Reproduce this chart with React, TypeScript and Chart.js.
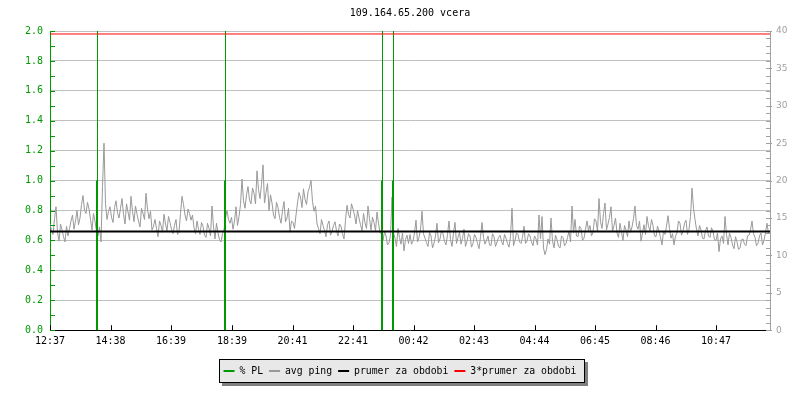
import React, { useEffect, useRef } from "react";
import { Chart, registerables } from "chart.js";

Chart.register(...registerables);

const TITLE = "109.164.65.200 vcera";
const TOTAL_MINUTES = 1440;
const SAMPLE_STEP_MINUTES = 6;

const xTickMinutes = [0, 121, 242, 364, 485, 606, 727, 848, 969, 1090, 1211, 1332];
const xTickLabels = ["12:37", "14:38", "16:39", "18:39", "20:41", "22:41", "00:42", "02:43", "04:44", "06:45", "08:46", "10:47"];

// avg ping (ms) read every 6 minutes ...
const pingSeg1 = [
  14.2, 12.8, 16.5, 11.9, 13.4, 11.8, 12.6, 14.6, 13.5, 16.0,
  15.0, 18.0, 15.6, 16.2, 13.4, 14.6, 12.6, 11.8, 25.0, 14.8,
  16.5, 14.4, 17.3, 15.0, 17.6, 14.2, 15.8, 17.9, 14.5, 15.5,
  13.8, 15.6, 18.3, 14.9, 13.4, 14.8, 12.5, 14.0, 15.5, 13.3,
  14.4, 12.9, 14.8, 13.1, 17.9, 15.4, 16.2, 14.7, 13.7, 14.6,
  12.8, 13.9, 12.4, 13.6, 16.6, 12.2, 13.0, 11.8, 13.4, 16.0,
];
const pingSeg2 = [
  14.3, 13.5, 16.5, 15.2, 20.2, 16.3, 19.2, 16.9, 18.3, 21.3,
  17.6, 22.1, 18.4, 16.0, 17.0, 14.9, 16.4, 14.3, 17.2, 15.0,
  13.1, 14.4, 15.4, 18.4, 16.4, 17.5, 18.5, 20.0, 15.9, 14.2,
  12.9, 14.0, 12.5, 14.6, 13.2, 14.5, 12.6, 13.9, 12.2, 16.7,
  15.0, 16.2, 14.2, 15.0, 13.3, 14.4, 16.6, 13.4, 14.4, 15.8,
  13.0, 12.0, 12.6, 11.7, 17.8, 12.3, 13.6, 11.5, 10.6, 12.7,
];
const pingSeg3 = [
  12.8, 11.9, 14.7, 12.4, 15.9, 12.3, 11.2, 12.6, 11.6, 14.3,
  12.2, 12.9, 11.4, 14.6, 11.2, 14.4, 12.4, 11.5, 13.5, 11.9,
  12.6, 11.6, 12.4, 10.9, 14.4, 11.5, 12.6, 11.3, 12.5, 11.8,
  12.7, 11.4, 12.3, 11.1, 16.3, 12.0, 12.8, 11.6, 13.9, 11.9,
  12.6, 11.3, 12.2, 15.4, 15.2, 10.1, 12.2, 15.0, 11.0, 12.1,
  11.0, 12.4, 11.6, 13.2, 16.6, 14.8, 12.5, 13.6, 12.3, 14.6,
];
const pingSeg4 = [
  14.0, 13.1, 14.6, 17.6, 13.6, 17.0, 14.2, 16.5, 14.0, 13.0,
  14.3, 12.0, 13.4, 14.6, 13.8, 16.6, 13.5, 11.9, 14.1, 15.2,
  13.3, 14.0, 12.5, 13.3, 11.4, 12.8, 15.3, 12.3, 11.4, 13.0,
  14.3, 13.2, 14.7, 13.5, 19.0, 14.8, 12.6, 13.4, 12.2, 13.8,
  12.4, 13.2, 12.0, 10.5, 12.6, 15.2, 11.4, 12.4, 10.9, 11.8,
  11.0, 12.2, 11.3, 12.7, 14.6, 12.4, 11.6, 13.0, 12.0, 14.3,
];
// ... and the readings 3 minutes after each of those
const pingSeg1Mid = [
  13.3, 14.9, 13.1, 14.2, 12.5, 13.9, 13.6, 15.4, 14.6, 14.1,
  16.8, 16.0, 17.1, 14.8, 15.6, 13.2, 13.8, 19.2, 16.9, 15.9,
  15.1, 16.4, 15.7, 16.3, 15.5, 16.9, 14.7, 15.9, 16.6, 14.6,
  16.3, 14.8, 16.2, 15.9, 13.9, 13.6, 14.6, 13.1, 14.2, 15.2,
  13.5, 14.0, 12.8, 15.6, 16.8, 14.6, 15.6, 15.4, 12.9, 13.5,
  14.4, 12.7, 14.3, 12.6, 13.8, 14.3, 12.1, 12.9, 15.0, 14.8,
];
const pingSeg2Mid = [
  15.1, 14.6, 14.0, 16.8, 17.3, 18.1, 17.4, 19.0, 16.9, 18.8,
  19.5, 17.0, 19.6, 18.1, 15.4, 17.1, 15.1, 16.0, 14.5, 16.3,
  14.6, 13.6, 17.0, 17.8, 18.9, 16.8, 19.1, 17.2, 16.6, 13.6,
  14.8, 13.3, 14.1, 12.7, 14.0, 13.3, 14.2, 12.9, 14.7, 15.5,
  16.9, 15.4, 16.0, 14.1, 15.6, 13.6, 14.9, 15.1, 13.3, 14.3,
  12.9, 13.2, 11.4, 12.7, 13.0, 11.2, 12.4, 13.0, 12.1, 11.6,
];
const pingSeg3Mid = [
  11.5, 13.0, 11.8, 13.4, 12.9, 11.7, 13.1, 11.0, 12.6, 11.7,
  13.3, 11.9, 12.8, 12.1, 13.0, 11.6, 13.1, 12.3, 11.2, 12.9,
  11.1, 12.8, 11.6, 12.5, 12.4, 12.0, 11.4, 12.9, 11.2, 12.4,
  11.9, 12.8, 11.6, 12.5, 11.3, 13.0, 11.8, 12.4, 11.6, 12.9,
  11.8, 12.6, 11.4, 12.2, 11.0, 10.8, 11.5, 11.9, 12.7, 11.2,
  12.6, 11.3, 12.4, 11.8, 13.0, 12.6, 13.9, 12.0, 13.5, 13.3,
];
const pingSeg4Mid = [
  12.6, 14.9, 13.2, 14.5, 15.6, 13.4, 15.1, 13.2, 15.0, 12.4,
  13.1, 14.0, 12.5, 13.1, 14.9, 14.0, 14.6, 13.0, 12.8, 13.9,
  14.8, 12.6, 13.9, 12.4, 13.2, 13.9, 13.6, 12.9, 12.6, 14.6,
  12.7, 14.3, 12.8, 15.2, 16.3, 13.5, 14.0, 12.3, 13.3, 12.6,
  13.7, 12.1, 13.0, 12.2, 11.6, 12.8, 13.0, 11.4, 12.5, 10.8,
  12.1, 11.5, 12.6, 13.4, 12.9, 11.3, 12.6, 11.4, 13.1, 12.9,
];

// packet loss events
const plMinutes = [94, 350, 664, 686];
const plValues = [1.0, 1.0, 1.0, 1.0];
const plMarkerTop = 2.0;

const avgPing = 13.2;

const GREEN = "#009900";
const GRAY = "#999999";
const MONO = "'DejaVu Sans Mono', monospace";

export default function App() {
  const ref = useRef<HTMLCanvasElement>(null);

  useEffect(() => {
    const canvas = ref.current;
    if (!canvas) return;

    const main = [...pingSeg1, ...pingSeg2, ...pingSeg3, ...pingSeg4];
    const mid = [...pingSeg1Mid, ...pingSeg2Mid, ...pingSeg3Mid, ...pingSeg4Mid];
    const pingData: any[] = [];
    main.forEach((v, i) => {
      pingData.push({ x: i * SAMPLE_STEP_MINUTES, y: v });
      if (i < mid.length) pingData.push({ x: i * SAMPLE_STEP_MINUTES + SAMPLE_STEP_MINUTES / 2, y: mid[i] });
    });

    const plThick: any[] = [];
    const plThin: any[] = [];
    plMinutes.forEach((m, i) => {
      plThick.push({ x: m, y: 0 }, { x: m, y: plValues[i] }, { x: m, y: null });
      plThin.push({ x: m, y: 0 }, { x: m, y: plMarkerTop }, { x: m, y: null });
    });

    const legendBox = {
      id: "legendBox",
      beforeDraw(chart: any) {
        const lg = chart.legend;
        if (!lg || !lg.legendHitBoxes || !lg.legendHitBoxes.length) return;
        const hbs = lg.legendHitBoxes;
        let l = Infinity, r = -Infinity;
        hbs.forEach((h: any) => { l = Math.min(l, h.left); r = Math.max(r, h.left + h.width); });
        const cy = hbs[0].top + hbs[0].height / 2;
        const left = Math.round(l - 5);
        const right = Math.round(r + 9);
        const top = Math.round(cy - 12);
        const w = right - left, h = 24;
        const ctx = chart.ctx;
        ctx.save();
        ctx.fillStyle = "#808080";
        ctx.fillRect(left + 3, top + 3, w, h);
        ctx.fillStyle = "#e8e8e8";
        ctx.fillRect(left, top, w, h);
        ctx.strokeStyle = "#000";
        ctx.lineWidth = 1;
        ctx.strokeRect(left + 0.5, top + 0.5, w - 1, h - 1);
        ctx.restore();
      },
    };

    const crispThin = {
      id: "crispThin",
      beforeDatasetDraw(chart: any, args: any) {
        if (args.index === 4) {
          chart.ctx.save();
          chart.ctx.translate(0.5, 0);
        }
      },
      afterDatasetDraw(chart: any, args: any) {
        if (args.index === 4) chart.ctx.restore();
      },
    };

    const inwardTicks = {
      id: "inwardTicks",
      afterDraw(chart: any) {
        const ctx = chart.ctx;
        const y = chart.scales.y, y1 = chart.scales.y1, x = chart.scales.x;
        const ca = chart.chartArea;
        ctx.save();
        ctx.lineWidth = 1;
        ctx.strokeStyle = GREEN;
        ctx.beginPath();
        for (let k = 0; k <= 20; k++) {
          const py = Math.round(y.getPixelForValue(k / 10)) + 0.5;
          ctx.moveTo(ca.left, py);
          ctx.lineTo(ca.left + 5, py);
        }
        ctx.stroke();
        ctx.strokeStyle = "#a0a0a0";
        ctx.beginPath();
        for (let k = 0; k <= 40; k++) {
          const py = Math.round(y1.getPixelForValue(k)) + 0.5;
          ctx.moveTo(ca.right - 4, py);
          ctx.lineTo(ca.right + (k % 5 === 0 ? 2 : 0), py);
        }
        ctx.stroke();
        ctx.strokeStyle = "#000";
        ctx.beginPath();
        xTickMinutes.forEach((m) => {
          const px = Math.round(x.getPixelForValue(m)) + 0.5;
          ctx.moveTo(px, ca.bottom);
          ctx.lineTo(px, ca.bottom - 5);
        });
        ctx.stroke();
        ctx.restore();
      },
    };

    const chart = new Chart(canvas, {
      type: "line",
      data: {
        datasets: [
          {
            label: "% PL",
            data: plThick,
            yAxisID: "y",
            borderColor: GREEN,
            backgroundColor: GREEN,
            borderWidth: 2,
            pointRadius: 0,
            spanGaps: false,
            order: 2,
          },
          {
            label: "avg ping",
            data: pingData,
            yAxisID: "y1",
            borderColor: GRAY,
            backgroundColor: GRAY,
            borderWidth: 1,
            pointRadius: 0,
            tension: 0,
            order: 4,
          },
          {
            label: "prumer za obdobi",
            data: [{ x: 0, y: avgPing }, { x: TOTAL_MINUTES, y: avgPing }],
            yAxisID: "y1",
            borderColor: "#000000",
            backgroundColor: "#000000",
            borderWidth: 2,
            pointRadius: 0,
            order: 1,
          },
          {
            label: "3*prumer za obdobi",
            data: [{ x: 0, y: 3 * avgPing }, { x: TOTAL_MINUTES, y: 3 * avgPing }],
            yAxisID: "y1",
            borderColor: "#ff0000",
            backgroundColor: "#ff0000",
            borderWidth: 1,
            pointRadius: 0,
            order: 0,
          },
          {
            label: "",
            data: plThin,
            yAxisID: "y",
            borderColor: GREEN,
            backgroundColor: GREEN,
            borderWidth: 1,
            pointRadius: 0,
            spanGaps: false,
            order: 3,
          },
        ],
      },
      options: {
        animation: false,
        responsive: false,
        maintainAspectRatio: false,
        layout: { padding: { left: 0, right: 0, top: 0, bottom: 14 } },
        plugins: {
          tooltip: { enabled: false },
          title: {
            display: true,
            text: TITLE,
            color: "#000",
            font: { family: MONO, size: 10, weight: "normal" },
            padding: { top: 7, bottom: 12 },
            fullSize: false,
          },
          legend: {
            display: true,
            position: "bottom",
            labels: {
              boxWidth: 11,
              boxHeight: 2,
              padding: 6,
              color: "#000",
              font: { family: MONO, size: 9.8 },
              generateLabels: (ch: any) =>
                ch.data.datasets
                  .map((ds: any, i: number) => ({
                    text: ds.label,
                    fillStyle: ds.borderColor,
                    strokeStyle: ds.borderColor,
                    lineWidth: 0,
                    hidden: false,
                    datasetIndex: i,
                    fontColor: "#000",
                  }))
                  .filter((l: any) => l.text),
            },
          },
        },
        scales: {
          x: {
            type: "linear",
            position: "bottom",
            min: 0,
            max: TOTAL_MINUTES,
            offset: false,
            afterBuildTicks: (s: any) => {
              s.ticks = xTickMinutes.map((v) => ({ value: v }));
            },
            afterFit: (s: any) => {
              s.height = 30;
            },
            ticks: {
              autoSkip: false,
              maxRotation: 0,
              padding: 5,
              color: "#000",
              font: { family: MONO, size: 10 },
              callback: (v: any) => {
                const i = xTickMinutes.indexOf(Number(v));
                return i >= 0 ? xTickLabels[i] : "";
              },
            },
            grid: { display: false, drawTicks: false },
            border: { display: true, color: "#000", width: 1 },
          },
          y: {
            type: "linear",
            position: "left",
            min: 0,
            max: 2,
            afterFit: (s: any) => {
              s.width = 50;
            },
            ticks: {
              stepSize: 0.2,
              padding: 7,
              color: GREEN,
              font: { family: MONO, size: 10 },
              callback: (v: any) => Number(v).toFixed(1),
            },
            grid: {
              drawTicks: false,
              color: (c: any) => (c.tick && Math.abs(c.tick.value) < 1e-9 ? "rgba(0,0,0,0)" : "#c0c0c0"),
            },
            border: { display: true, color: GREEN, width: 1 },
          },
          y1: {
            type: "linear",
            position: "right",
            min: 0,
            max: 40,
            afterFit: (s: any) => {
              s.width = 30;
            },
            ticks: {
              stepSize: 5,
              padding: 6,
              color: "#a0a0a0",
              font: { family: "'DejaVu Sans', sans-serif", size: 9 },
            },
            grid: { drawOnChartArea: false, drawTicks: false },
            border: { display: true, color: "#a0a0a0", width: 1 },
          },
        },
      },
      plugins: [legendBox, crispThin, inwardTicks],
    });

    return () => chart.destroy();
  }, []);

  return (
    <div style={{ position: "absolute", left: 0, top: 0, width: 800, height: 400, background: "#fff" }}>
      <canvas ref={ref} width={800} height={400} style={{ width: 800, height: 400, display: "block" }} />
    </div>
  );
}
